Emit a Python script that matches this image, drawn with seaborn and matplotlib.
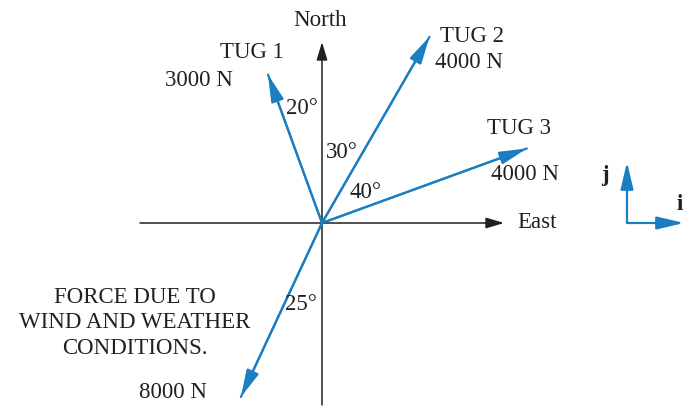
import numpy as np
import pandas as pd
import matplotlib
matplotlib.use("Agg")
import matplotlib.pyplot as plt
import seaborn as sns

# forces acting on the ship (bearing measured from North, clockwise)
names = ["TUG 1", "TUG 2", "TUG 3", "WIND"]
magnitudes = [3000, 4000, 4000, 8000]
bearings = [-20, 30, 70, 205]
force_labels = ["3000 N", "4000 N", "4000 N", "8000 N"]
angle_labels = ["20°", "30°", "40°", "25°"]

# drawn arrow lengths (diagram is not to scale)
draw_len = [158, 215, 218, 192]

BLUE = "#1b7ec2"
DARK = "#231f20"
HEAD = "-|>,head_length=1.1,head_width=0.26"

sns.set_theme(style="white")
plt.rcParams["font.family"] = ["Liberation Serif", "DejaVu Serif"]

fig = plt.figure(figsize=(6.85, 4.08), dpi=100)
ax = fig.add_axes([0, 0, 1, 1])
# 1 data unit = 1 pixel, origin where the axes cross
ax.set_xlim(-322, 363)
ax.set_ylim(-185, 223)
ax.set_axis_off()

# compass axes
ax.plot([-182, 0], [0, 0], color=DARK, lw=1.1)
ax.plot([0, 0], [-182, 0], color=DARK, lw=1.1)
for end in [(182, 0), (0, 181)]:
    ax.annotate("", xy=end, xytext=(0, 0),
                arrowprops=dict(arrowstyle="-|>,head_length=1.0,head_width=0.3",
                                color=DARK, lw=1.1, shrinkA=0, shrinkB=0,
                                mutation_scale=11))

# force vectors
theta = np.deg2rad(90 - np.array(bearings))
tips_x = np.array(draw_len) * np.cos(theta)
tips_y = np.array(draw_len) * np.sin(theta)
df = pd.DataFrame({
    "name": np.repeat(names, 2),
    "x": np.ravel(np.column_stack([np.zeros(4), tips_x])),
    "y": np.ravel(np.column_stack([np.zeros(4), tips_y])),
})
sns.lineplot(data=df, x="x", y="y", units="name", estimator=None,
             sort=False, color=BLUE, lw=1.6, ax=ax, legend=False)
for tx, ty in zip(tips_x, tips_y):
    ax.annotate("", xy=(tx, ty), xytext=(0, 0),
                arrowprops=dict(arrowstyle=HEAD, color=BLUE, lw=1.6,
                                shrinkA=0, shrinkB=0, mutation_scale=15))

txt = dict(fontsize=16.5, color=DARK, ha="center", va="center")
ax.text(-2, 203, "North", **txt)
ax.text(215, 0, "East", **txt)

ax.text(-70, 171, names[0], **txt)
ax.text(-123, 143, force_labels[0], **txt)
ax.text(150, 186, names[1], **txt)
ax.text(147, 160, force_labels[1], **txt)
ax.text(197, 95, names[2], **txt)
ax.text(203, 48, force_labels[2], **txt)
ax.text(-149, -169, force_labels[3], **txt)

ax.text(-20, 115, angle_labels[0], **txt)
ax.text(20, 71, angle_labels[1], **txt)
ax.text(43, 31, angle_labels[2], **txt)
ax.text(-21, -82, angle_labels[3], **txt)

ax.text(-187, -100, "FORCE DUE TO\nWIND AND WEATHER\nCONDITIONS.",
        fontsize=16.5, color=DARK, ha="center", va="center", linespacing=1.3)

# unit vectors i, j
for end in [(305, 61), (362, 0)]:
    ax.annotate("", xy=end, xytext=(305, 0),
                arrowprops=dict(arrowstyle=HEAD, color=BLUE, lw=1.6,
                                shrinkA=0, shrinkB=0, mutation_scale=15))
ax.text(283, 48, "j", fontsize=16.5, color=DARK, ha="center", va="center",
        fontweight="bold")
ax.text(358, 18, "i", fontsize=16.5, color=DARK, ha="center", va="center",
        fontweight="bold")

fig.savefig("out.png", dpi=100)
